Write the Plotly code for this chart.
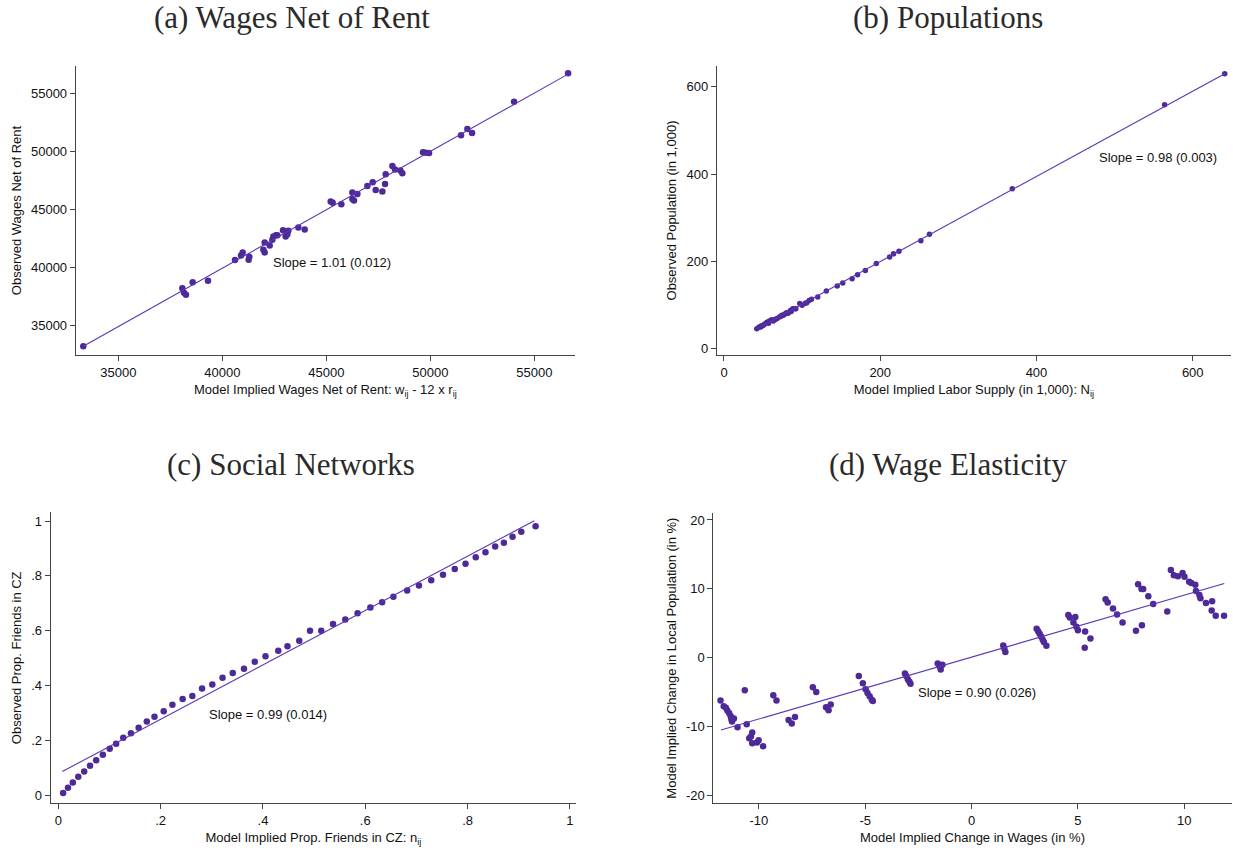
import plotly.graph_objects as go

# (a) Wages net of rent
wage_model = [33317, 38078, 38158, 38254, 38575, 39312, 40611, 40900, 40979, 41268,
              41300, 41973, 42037, 42037, 42278, 42406, 42454, 42582, 42646, 42919,
              43047, 43127, 43175, 43656, 43961, 45211, 45307, 45724, 46253, 46253,
              46333, 46494, 46974, 47231, 47375, 47696, 47824, 47856, 48177, 48305,
              48561, 48657, 49651, 49780, 49940, 51479, 51783, 52008, 54027, 56624]
wage_obs = [33257, 38229, 37857, 37686, 38743, 38886, 40657, 41057, 41314, 40686,
            40943, 41543, 41314, 42171, 41914, 42400, 42686, 42800, 42800, 43229,
            42686, 42886, 43171, 43457, 43286, 45686, 45571, 45457, 46457, 45914,
            45771, 46343, 47029, 47343, 46686, 46543, 47200, 48029, 48743, 48429,
            48343, 48114, 49914, 49886, 49857, 51371, 51914, 51571, 54257, 56714]
wage_fit_x = [33317, 56624]
wage_fit_y = [33257, 56629]

# (b) Populations
pop_model = [42, 45, 47, 48, 50, 52, 55, 57, 58, 61, 63, 65, 66, 68, 71, 73, 74, 76,
             78, 80, 82, 85, 86, 88, 91, 92, 97, 100, 104, 106, 109, 112, 120, 131,
             145, 152, 164, 171, 181, 195, 212, 217, 224, 252, 263, 369, 564, 641]
pop_obs = [45, 49, 49, 52, 53, 56, 60, 58, 63, 66, 63, 66, 67, 69, 72, 74, 76, 76,
           79, 82, 81, 87, 85, 91, 91, 91, 103, 99, 104, 105, 110, 113, 118, 132,
           143, 150, 160, 169, 179, 195, 210, 217, 223, 247, 262, 366, 559, 630]
pop_fit_x = [42, 641]
pop_fit_y = [45, 630]

# (c) Social networks
net_model = [0.0094, 0.0189, 0.0283, 0.039, 0.0506, 0.062, 0.074, 0.087, 0.1005, 0.113,
             0.127, 0.142, 0.157, 0.173, 0.188, 0.206, 0.223, 0.243, 0.262, 0.281,
             0.301, 0.321, 0.341, 0.363, 0.384, 0.405, 0.430, 0.448, 0.471, 0.492,
             0.514, 0.537, 0.561, 0.585, 0.610, 0.633, 0.655, 0.682, 0.705, 0.729,
             0.752, 0.775, 0.796, 0.816, 0.835, 0.854, 0.871, 0.888, 0.905, 0.933]
net_obs = [0.0085, 0.028, 0.047, 0.068, 0.087, 0.108, 0.128, 0.148, 0.170, 0.188,
           0.210, 0.227, 0.247, 0.269, 0.287, 0.307, 0.330, 0.351, 0.362, 0.390,
           0.404, 0.429, 0.446, 0.462, 0.487, 0.507, 0.527, 0.544, 0.564, 0.600,
           0.600, 0.625, 0.641, 0.664, 0.685, 0.704, 0.724, 0.747, 0.765, 0.784,
           0.804, 0.825, 0.844, 0.868, 0.886, 0.907, 0.921, 0.943, 0.961, 0.981]
net_fit_x = [0.0078, 0.9306]
net_fit_y = [0.087, 1.001]

# (d) Wage elasticity
chg_wage = [-11.80, -11.65, -11.55, -11.48, -11.39, -11.32, -11.29, -11.26, -11.17, -11.00,
            -10.66, -10.57, -10.45, -10.37, -10.31, -10.31, -10.09, -10.01, -9.80, -9.32,
            -9.17, -8.60, -8.45, -8.30, -7.46, -7.30, -6.84, -6.72, -6.62, -5.30,
            -5.11, -4.98, -4.89, -4.79, -4.69, -4.64, -3.13, -3.06, -2.99, -2.92,
            -2.87, -1.59, -1.51, -1.45, -1.37, 1.49, 1.54, 1.59, 3.06, 3.13,
            3.20, 3.27, 3.34, 3.40, 3.52, 4.55, 4.62, 4.79, 4.88, 4.93,
            5.00, 5.32, 5.34, 5.59, 6.30, 6.40, 6.65, 6.84, 7.10, 7.73,
            7.83, 7.99, 8.01, 8.07, 8.31, 8.54, 9.20, 9.37, 9.51, 9.70,
            9.92, 10.01, 10.23, 10.33, 10.52, 10.55, 10.71, 10.76, 11.02, 11.31,
            11.29, 11.48, 11.87]
chg_pop = [-6.22, -7.04, -7.24, -7.67, -8.06, -8.49, -8.92, -9.26, -8.83, -10.08,
           -4.73, -9.65, -11.67, -11.43, -10.85, -12.40, -12.30, -11.96, -12.83, -5.45,
           -6.22, -9.02, -9.55, -8.59, -4.29, -4.97, -7.19, -7.62, -6.80, -2.65,
           -3.71, -4.58, -5.11, -5.60, -6.08, -6.27, -2.27, -2.70, -3.14, -3.47,
           -3.76, -0.82, -1.21, -1.69, -1.01, 1.78, 1.35, 0.82, 4.20, 3.86,
           3.47, 3.09, 2.65, 2.27, 1.74, 6.22, 5.84, 5.11, 5.93, 4.49,
           4.00, 1.45, 3.81, 2.80, 8.49, 8.01, 7.14, 6.27, 5.11, 3.91,
           10.66, 9.99, 4.73, 9.99, 8.92, 7.81, 6.71, 12.74, 11.96, 11.82,
           12.30, 11.77, 11.05, 10.85, 10.61, 9.70, 9.12, 8.64, 7.96, 8.20,
           6.85, 6.08, 6.08]
chg_fit_x = [-11.78, 11.88]
chg_fit_y = [-10.49, 10.77]

# tick values / labels
wage_ticks = [35000, 40000, 45000, 50000, 55000]
wage_ticklabels = ["35000", "40000", "45000", "50000", "55000"]
pop_ticks = [0, 200, 400, 600]
net_ticks = [0, 0.2, 0.4, 0.6, 0.8, 1]
net_ticklabels = ["0", ".2", ".4", ".6", ".8", "1"]
chg_ticks = [-10, -5, 0, 5, 10]
chg_ticklabels = ["-10", "-5", "0", "5", "10"]
chg_yticks = [-20, -10, 0, 10, 20]
chg_yticklabels = ["-20", "-10", "0", "10", "20"]

W, H = 1233, 848
PURPLE = "#4E2A98"
SANS = "Liberation Sans, Arial, sans-serif"


def xdom(p0, p1):
    return [p0 / W, min(p1 / W, 1)]


def ydom(p0, p1):
    # p0 = top pixel, p1 = bottom pixel
    return [1 - p1 / H, 1 - p0 / H]


fig = go.Figure()

panels = [
    (wage_model, wage_obs, wage_fit_x, wage_fit_y, "", 6.5),
    (pop_model, pop_obs, pop_fit_x, pop_fit_y, "2", 5.5),
    (net_model, net_obs, net_fit_x, net_fit_y, "3", 6.5),
    (chg_wage, chg_pop, chg_fit_x, chg_fit_y, "4", 6.5),
]
for xs, ys, fx, fy, k, msize in panels:
    fig.add_trace(go.Scatter(x=xs, y=ys, mode="markers", xaxis="x" + k, yaxis="y" + k,
                             marker=dict(color=PURPLE, size=msize), showlegend=False))
    fig.add_trace(go.Scatter(x=fx, y=fy, mode="lines", xaxis="x" + k, yaxis="y" + k,
                             line=dict(color="#5A35B8", width=1.1), showlegend=False))

axis_style = dict(showline=True, linecolor="#444", linewidth=1, ticks="outside",
                  ticklen=5, tickcolor="#444", showgrid=False, zeroline=False,
                  tickfont=dict(family=SANS, size=13, color="#111"),
                  title_font=dict(family=SANS, size=13, color="#111"))

fig.update_layout(
    width=W, height=H,
    margin=dict(l=0, r=0, t=0, b=0),
    plot_bgcolor="white", paper_bgcolor="white",
    xaxis=dict(axis_style, domain=xdom(75.7, 575), range=[32952, 56957], anchor="y",
               tickvals=wage_ticks, ticktext=wage_ticklabels,
               title=dict(text="Model Implied Wages Net of Rent: w<sub>ij</sub> - 12 x r<sub>ij</sub>", standoff=6)),
    yaxis=dict(axis_style, domain=ydom(65, 355), range=[32490, 57340], anchor="x",
               tickvals=wage_ticks, ticktext=wage_ticklabels,
               title=dict(text="Observed Wages Net of Rent", standoff=6)),
    xaxis2=dict(axis_style, domain=xdom(716.8, 1231), range=[-9.2, 649], anchor="y2",
                tickvals=pop_ticks,
                title=dict(text="Model Implied Labor Supply (in 1,000): N<sub>ij</sub>", standoff=6)),
    yaxis2=dict(axis_style, domain=ydom(65, 355), range=[-15.3, 648], anchor="x2",
                tickvals=pop_ticks,
                title=dict(text="Observed Population (in 1,000)", standoff=6)),
    xaxis3=dict(axis_style, domain=xdom(50.7, 576), range=[-0.0149, 1.012], anchor="y3",
                tickvals=net_ticks, ticktext=net_ticklabels,
                title=dict(text="Model Implied Prop. Friends in CZ: n<sub>ij</sub>", standoff=6)),
    yaxis3=dict(axis_style, domain=ydom(512.7, 804), range=[-0.028, 1.031], anchor="x3",
                tickvals=net_ticks, ticktext=net_ticklabels,
                title=dict(text="Observed Prop. Friends in CZ", standoff=6)),
    xaxis4=dict(axis_style, domain=xdom(713.3, 1231.7), range=[-12.14, 12.23], anchor="y4",
                tickvals=chg_ticks, ticktext=chg_ticklabels,
                title=dict(text="Model Implied Change in Wages (in %)", standoff=6)),
    yaxis4=dict(axis_style, domain=ydom(513.3, 804), range=[-21.1, 21.0], anchor="x4",
                tickvals=chg_yticks, ticktext=chg_yticklabels,
                title=dict(text="Model Implied Change in Local Population (in %)", standoff=6)),
)

# panel titles
titles = [("(a) Wages Net of Rent", 292, 17), ("(b) Populations", 948, 17),
          ("(c) Social Networks", 291, 465), ("(d) Wage Elasticity", 948, 465)]
for text, px, py in titles:
    fig.add_annotation(text=text, x=px / W, y=1 - py / H, xref="paper", yref="paper",
                       showarrow=False, xanchor="center", yanchor="middle",
                       font=dict(family="Liberation Serif, serif", size=31, color="#2a2a2a"))

# slope labels
slopes = [("Slope = 1.01 (0.012)", 42326, 40430, ""), ("Slope = 0.98 (0.003)", 478, 438, "2"),
          ("Slope = 0.99 (0.014)", 0.29, 0.295, "3"), ("Slope = 0.90 (0.026)", -2.62, -5.1, "4")]
for text, sx, sy, k in slopes:
    fig.add_annotation(text=text, x=sx, y=sy, xref="x" + k, yref="y" + k, showarrow=False,
                       xanchor="left", yanchor="middle",
                       font=dict(family=SANS, size=13, color="#111"))

# drop the default 8px page margin so the figure fills the window, no modebar
fig.write_html("out.html", config={"displayModeBar": False},
               post_script="document.body.style.margin = '0';")
